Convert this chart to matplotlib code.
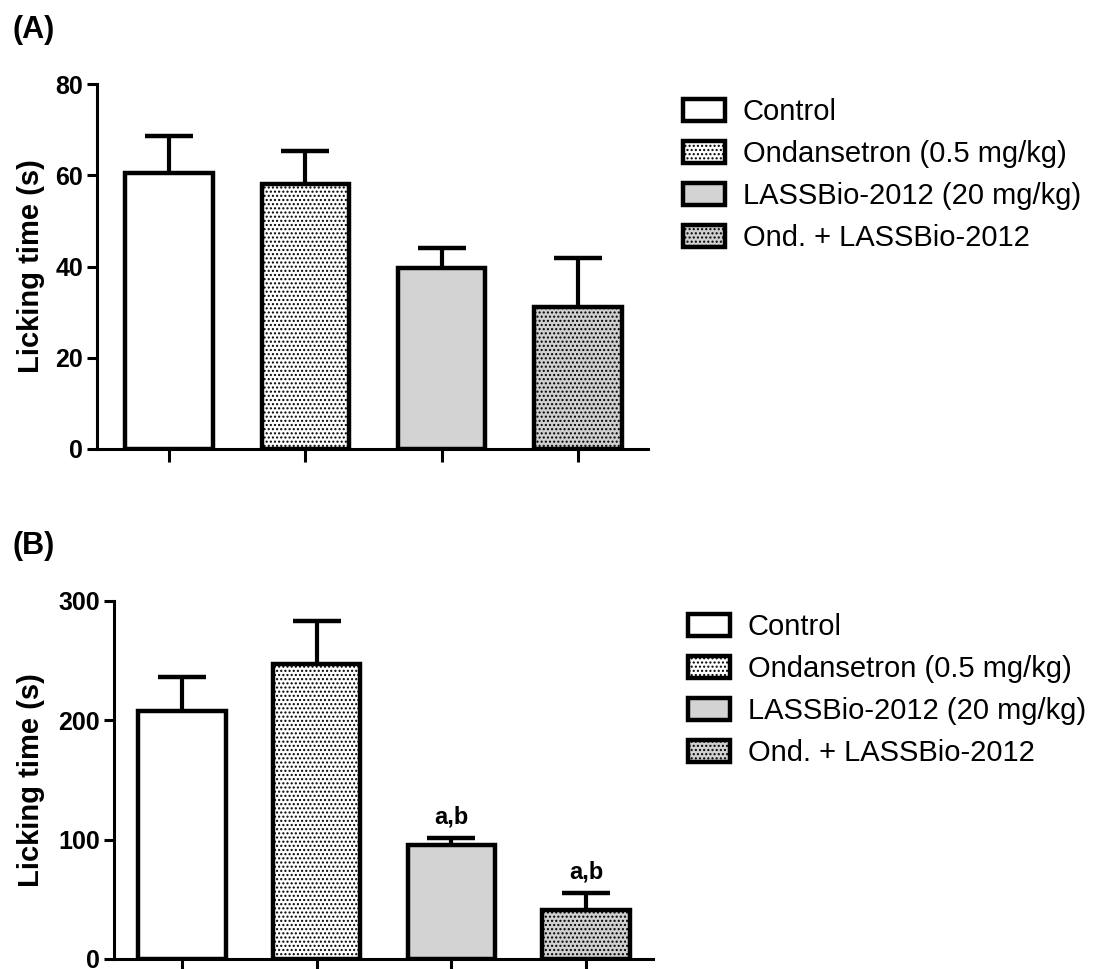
import matplotlib
matplotlib.use("Agg")
import matplotlib.pyplot as plt
import numpy as np

plt.rcParams['font.family'] = ['Liberation Sans', 'DejaVu Sans']
plt.rcParams['hatch.linewidth'] = 1.0

# Treatment groups
groups = ["Control", "Ondansetron (0.5 mg/kg)", "LASSBio-2012 (20 mg/kg)",
          "Ond. + LASSBio-2012"]

# Panel A: licking time (s), mean and SEM
mean_a = [60.6, 58.1, 39.7, 31.2]
sem_a = [8.0, 7.3, 4.4, 10.6]

# Panel B: licking time (s), mean and SEM
mean_b = [208.0, 247.0, 95.5, 41.0]
sem_b = [28.4, 36.0, 5.5, 14.5]
sig_b = ["", "", "a,b", "a,b"]

yticks_a = [0, 20, 40, 60, 80]
yticks_b = [0, 100, 200, 300]

faces = ["white", "white", "#d3d3d3", "#d0d0d0"]
hatches = [None, "....", None, "...."]

W, H = 1101, 969
fig = plt.figure(figsize=(W / 100, H / 100), dpi=100)


def px_axes(left, right, top, bottom):
    return fig.add_axes([left / W, 1 - bottom / H, (right - left) / W, (bottom - top) / H])


def draw_panel(ax, means, sems, yticks, xlim, width, sig=None):
    x = np.arange(len(means))
    bars = ax.bar(x, means, width=width, color=faces, edgecolor="black",
                  linewidth=3.2, zorder=2)
    for b, h in zip(bars, hatches):
        if h:
            b.set_hatch(h)
    _, caps, _ = ax.errorbar(x, means, yerr=[np.zeros(len(sems)), sems], fmt="none",
                             ecolor="black", elinewidth=3.0, capsize=17.5,
                             capthick=3.2, zorder=1)
    caps[0].set_visible(False)
    ax.set_xlim(*xlim)
    ax.set_ylim(yticks[0], yticks[-1])
    ax.set_yticks(yticks)
    ax.set_xticks(x)
    ax.set_xticklabels([])
    for s in ("top", "right"):
        ax.spines[s].set_visible(False)
    for s in ("left", "bottom"):
        ax.spines[s].set_linewidth(2.2)
    ax.tick_params(axis="y", direction="out", length=7, width=2.2, pad=3,
                   labelsize=18)
    ax.tick_params(axis="x", direction="out", length=9, width=2.2)
    for lab in ax.get_yticklabels():
        lab.set_fontweight("bold")
    ax.set_ylabel("Licking time (s)", fontsize=21, fontweight="bold")
    if sig:
        for xi, m, s, t in zip(x, means, sems, sig):
            if t:
                ax.annotate(t, (xi, m + s), xytext=(0, 7), textcoords="offset points",
                            ha="center", va="bottom", fontsize=17, fontweight="bold")
    return bars


def draw_legend(ax, bars, top_px, left_px):
    ax.legend(bars, groups, loc="upper left", frameon=False,
              bbox_to_anchor=(left_px / W, 1 - top_px / H),
              bbox_transform=fig.transFigure, borderpad=0, borderaxespad=0,
              fontsize=21, handlelength=1.45, handleheight=0.8,
              handletextpad=0.6, labelspacing=0.48)


ax_a = px_axes(97, 648, 84, 449)
bars_a = draw_panel(ax_a, mean_a, sem_a, yticks_a, (-0.528, 3.514), 0.64)
ax_a.yaxis.set_label_coords(-0.094, 0.5)
draw_legend(ax_a, bars_a, 98, 683)

ax_b = px_axes(114, 653, 601, 959)
bars_b = draw_panel(ax_b, mean_b, sem_b, yticks_b, (-0.505, 3.497), 0.65, sig_b)
ax_b.yaxis.set_label_coords(-0.128, 0.5)
draw_legend(ax_b, bars_b, 613, 688)

fig.text(13 / W, 1 - 30 / H, "(A)", fontsize=22, fontweight="bold", ha="left", va="center")
fig.text(12 / W, 1 - 546 / H, "(B)", fontsize=22, fontweight="bold", ha="left", va="center")

fig.savefig("out.png", dpi=100)
